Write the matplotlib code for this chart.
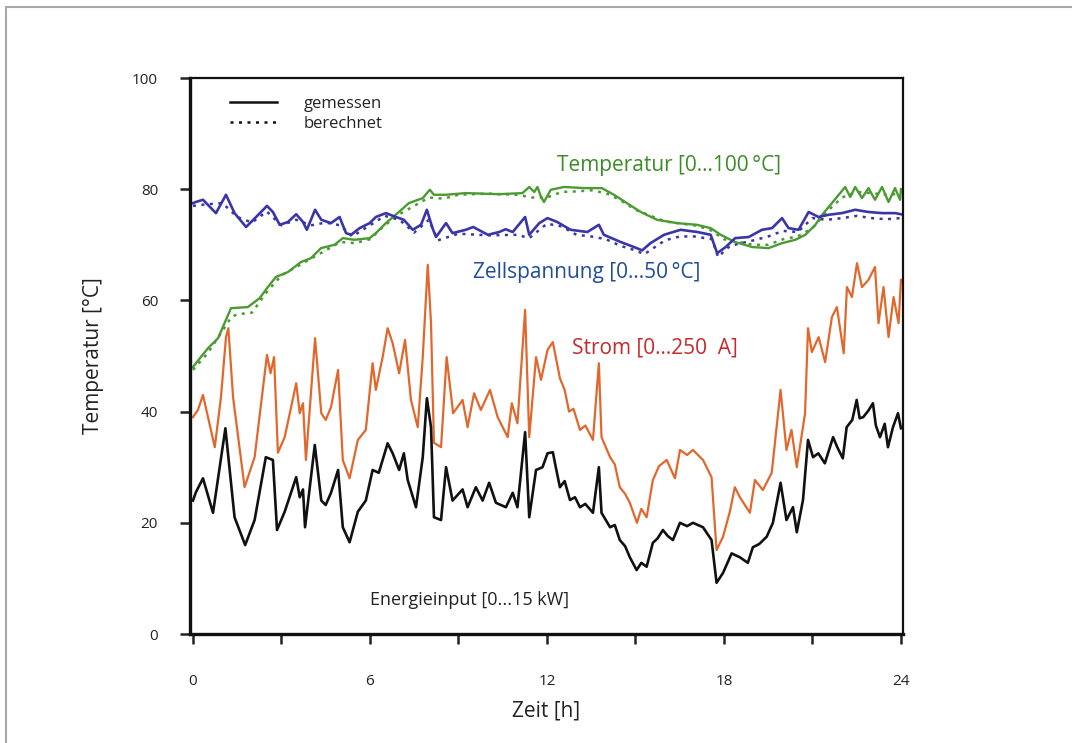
import matplotlib
matplotlib.use("Agg")
import matplotlib.pyplot as plt
from matplotlib.lines import Line2D
from matplotlib.patches import Rectangle

plt.rcParams['font.family'] = ['Open Sans', 'DejaVu Sans']

# Energieinput [0...15 kW] (gemessen)
energie = [(0, 24), (0.1, 25.5), (0.34, 28), (0.68, 21.8), (1.1, 37), (1.41, 21), (1.77, 16),
           (2.09, 20.5), (2.47, 31.8), (2.71, 31.3), (2.85, 18.7), (3.11, 22), (3.5, 28.2),
           (3.62, 24.6), (3.73, 26), (3.8, 19.2), (4.13, 34), (4.35, 24), (4.5, 23.2), (4.68, 25.4),
           (4.92, 29.5), (5.08, 19.2), (5.31, 16.5), (5.59, 22), (5.86, 24), (6.09, 29.5), (6.3, 29),
           (6.6, 34.3), (6.77, 32.5), (6.99, 29.5), (7.15, 32.5), (7.28, 27.7), (7.56, 22.8),
           (7.79, 31.8), (7.93, 42.4), (8.07, 37.2), (8.17, 21), (8.41, 20.5), (8.58, 30), (8.8, 24),
           (9.14, 26), (9.31, 22.8), (9.59, 26.4), (9.82, 24), (10.04, 27.2), (10.27, 23.6),
           (10.61, 22.8), (10.84, 25.4), (11.0, 22.8), (11.26, 36.3), (11.4, 21), (11.63, 29.5),
           (11.85, 30), (12.02, 32.5), (12.2, 32.7), (12.3, 30), (12.44, 26.4), (12.6, 27.5),
           (12.78, 24.1), (12.95, 24.6), (13.12, 22.8), (13.3, 23.4), (13.56, 21.8), (13.76, 30),
           (13.85, 21.8), (14.14, 19.2), (14.3, 19.6), (14.47, 16.9), (14.65, 15.8), (14.81, 13.8),
           (15.04, 11.5), (15.2, 12.8), (15.38, 12.1), (15.59, 16.4), (15.75, 17.2), (15.93, 18.7),
           (16.1, 17.6), (16.27, 16.9), (16.51, 20), (16.75, 19.4), (16.95, 20), (17.29, 19.2),
           (17.58, 16.9), (17.75, 9.2), (17.97, 11), (18.26, 14.5), (18.54, 13.8), (18.81, 12.8),
           (18.98, 15.6), (19.2, 16.2), (19.45, 17.5), (19.66, 20), (19.92, 27.2), (20.12, 20.5),
           (20.34, 22.8), (20.47, 18.3), (20.68, 24.1), (20.85, 34.9), (21.02, 31.8), (21.2, 32.5),
           (21.42, 30.7), (21.7, 35.4), (21.85, 33.5), (22.03, 31.6), (22.16, 37.2), (22.35, 38.5),
           (22.5, 42.1), (22.6, 38.8), (22.72, 39), (22.9, 40.2), (23.05, 41.5), (23.15, 37.5),
           (23.29, 35.4), (23.45, 37.8), (23.56, 33.6), (23.73, 37.2), (23.9, 39.7), (24.0, 37)]

# Strom [0...250 A] (gemessen)
strom = [(0, 39), (0.17, 40.3), (0.34, 43), (0.74, 33.6), (0.95, 42.6), (1.12, 53.4), (1.2, 55),
         (1.36, 42.6), (1.75, 26.4), (2.09, 31.8), (2.51, 50.2), (2.63, 46.9), (2.75, 49.8),
         (2.88, 32.6), (3.11, 35.4), (3.5, 45.1), (3.62, 39.7), (3.73, 41.5), (3.83, 31.3),
         (4.14, 53.2), (4.35, 39.7), (4.5, 38.5), (4.68, 40.8), (4.92, 47.5), (5.08, 31.3),
         (5.31, 28), (5.59, 34.9), (5.86, 36.7), (6.09, 48.7), (6.2, 43.9), (6.43, 49.8), (6.6, 55),
         (6.77, 52.3), (6.99, 46.9), (7.19, 52.9), (7.39, 42.1), (7.62, 37.2), (7.79, 49.8),
         (7.96, 66.4), (8.07, 55.9), (8.17, 34.4), (8.41, 33.6), (8.6, 49.8), (8.82, 39.7),
         (9.14, 42.1), (9.31, 37.2), (9.53, 43.3), (9.76, 40.3), (10.07, 43.9), (10.33, 39),
         (10.67, 35.4), (10.81, 41.5), (11.0, 37.9), (11.26, 58.3), (11.4, 35.4), (11.63, 49.8),
         (11.8, 45.7), (12.02, 51.1), (12.2, 52.5), (12.44, 46), (12.6, 43.9), (12.75, 40),
         (12.9, 40.5), (13.12, 36.7), (13.3, 37.5), (13.56, 34.9), (13.76, 48.7), (13.85, 35.4),
         (14.14, 31.8), (14.3, 30.5), (14.47, 26.4), (14.65, 25.2), (14.81, 23.6), (15.05, 20),
         (15.2, 22.5), (15.38, 21), (15.59, 27.7), (15.8, 30.2), (16.06, 31.3), (16.34, 28),
         (16.51, 33.1), (16.75, 32.2), (16.95, 33.1), (17.29, 31.3), (17.58, 28.2), (17.75, 15.1),
         (17.97, 17.5), (18.2, 22), (18.37, 26.4), (18.54, 24.6), (18.88, 21.8), (19.05, 27.7),
         (19.32, 25.9), (19.62, 29), (19.92, 43.9), (20.12, 33.1), (20.29, 36.7), (20.47, 30),
         (20.75, 39.7), (20.85, 55), (20.98, 50.7), (21.21, 53.4), (21.43, 48.9), (21.66, 57),
         (21.83, 58.8), (22.06, 50.5), (22.17, 62.4), (22.34, 60.6), (22.51, 66.7), (22.68, 62.4),
         (22.9, 63.7), (23.12, 66), (23.24, 55.9), (23.41, 62.4), (23.58, 53.4), (23.75, 60.6),
         (23.92, 55.9), (24.0, 63.7)]

# Temperatur [0...100 °C]
temp_gem = [(0, 48), (0.1, 48.7), (0.51, 51.4), (0.85, 53.2), (1.07, 55.9), (1.29, 58.6),
            (1.86, 58.8), (2.26, 60.4), (2.54, 62.4), (2.81, 64.2), (3.22, 65.1), (3.66, 66.9),
            (4.0, 67.6), (4.34, 69.4), (4.8, 70), (5.08, 71.2), (5.47, 70.9), (5.99, 71.2),
            (6.2, 72.1), (6.54, 73.9), (6.98, 75.9), (7.32, 77.5), (7.79, 78.4), (8.03, 79.9),
            (8.17, 79), (8.58, 79), (9.25, 79.3), (10.37, 79.1), (11.17, 79.3), (11.4, 80.4),
            (11.57, 79.5), (11.68, 80.4), (11.8, 78.6), (11.9, 77.7), (12.13, 79.9), (12.58, 80.4),
            (13.25, 80.2), (13.86, 80.2), (14.27, 79), (14.71, 77.5), (15.18, 75.9), (15.73, 74.5),
            (16.41, 73.9), (17.08, 73.6), (17.55, 73), (17.89, 71.8), (18.38, 70.5), (18.95, 69.6),
            (19.51, 69.4), (19.97, 70.3), (20.42, 70.9), (20.76, 71.8), (21.1, 73.6), (21.33, 75.4),
            (21.66, 77.5), (21.94, 79.3), (22.11, 80.4), (22.28, 78.6), (22.45, 80.4), (22.68, 78.4),
            (22.9, 80.2), (23.12, 78.1), (23.36, 80.4), (23.58, 77.7), (23.8, 80.2), (23.97, 78.1),
            (24, 80)]
temp_ber = [(0, 47.5), (0.5, 50.5), (1.0, 54.5), (1.3, 57), (1.5, 57.5), (2.0, 57.8), (2.5, 61.5),
            (3.0, 64.5), (3.5, 66), (4.0, 67.5), (4.5, 69), (5.0, 70.5), (5.5, 70.3), (6.0, 71),
            (6.5, 73.5), (7.0, 75.5), (7.5, 77), (8.0, 78.5), (8.5, 78.3), (9.0, 79), (10.0, 79.2),
            (11.0, 79), (11.5, 78.5), (12.0, 78.5), (12.5, 79.5), (13.0, 79.6), (13.5, 79.8),
            (14.0, 79.3), (14.5, 78), (15.0, 76.3), (16.0, 74.2), (17.0, 73.5), (17.5, 72.8),
            (18.0, 71), (19.0, 70), (19.5, 70), (20.0, 71), (20.5, 71.5), (21.0, 73), (21.5, 76),
            (22.0, 78.5), (22.5, 79.5), (23.0, 79.3), (23.5, 79), (24.0, 79.2)]

# Zellspannung [0...50 °C]
zell_gem = [(0, 77.5), (0.1, 77.7), (0.34, 78.1), (0.78, 75.7), (1.12, 79), (1.41, 75.7), (1.8, 73.2),
            (2.14, 75), (2.51, 77), (2.71, 75.9), (2.94, 73.6), (3.22, 74.1), (3.5, 75.5), (3.73, 74.1),
            (3.86, 72.7), (4.14, 76.3), (4.35, 74.5), (4.68, 73.9), (4.97, 75), (5.19, 72.1),
            (5.36, 71.8), (5.65, 73), (5.99, 73.9), (6.2, 75), (6.54, 75.7), (6.88, 75), (7.15, 74.5),
            (7.45, 72.7), (7.73, 73.6), (7.93, 76.3), (8.12, 73), (8.24, 71.4), (8.58, 73.9),
            (8.8, 72.1), (9.25, 72.7), (9.5, 73.2), (9.82, 72.3), (10.0, 71.8), (10.38, 72.3),
            (10.6, 72.8), (10.84, 72.3), (11.26, 75), (11.4, 71.8), (11.74, 73.9), (12.02, 74.8),
            (12.35, 74.1), (12.8, 72.7), (13.37, 72.3), (13.76, 73.6), (13.93, 71.8), (14.5, 70.5),
            (14.95, 69.6), (15.23, 69), (15.51, 70.3), (15.97, 71.8), (16.53, 72.7), (17.1, 72.3),
            (17.55, 71.8), (17.77, 68.5), (18.06, 69.6), (18.38, 71.2), (18.84, 71.4), (19.29, 72.7),
            (19.63, 73), (19.97, 74.8), (20.19, 73), (20.53, 72.7), (20.87, 75.9), (21.21, 75),
            (21.55, 75.4), (22.0, 75.7), (22.45, 76.3), (22.9, 75.9), (23.36, 75.7), (23.8, 75.7),
            (24.0, 75.5)]
zell_ber = [(0, 77), (0.5, 77.3), (1.0, 77.5), (1.5, 75), (2.0, 74), (2.5, 76), (3.0, 73.5),
            (3.5, 74.5), (4.0, 73.5), (4.5, 74), (5.0, 73.5), (5.4, 71.5), (6.0, 73.5), (6.5, 75.2),
            (7.0, 74.5), (7.5, 72.2), (8.0, 74.5), (8.3, 70.8), (9.0, 72), (10.0, 71.7), (11.0, 71.8),
            (11.4, 71.2), (12.0, 73.8), (12.5, 73.3), (13.0, 71.8), (13.5, 71.5), (14.0, 71),
            (14.5, 69.8), (15.0, 69), (15.3, 68.3), (16.0, 70.8), (16.5, 71.5), (17.0, 71.5),
            (17.6, 71), (17.8, 67.8), (18.2, 69.8), (19.0, 70.8), (19.5, 71.5), (20.0, 72.5),
            (20.5, 72.3), (21.0, 74.8), (21.5, 74.5), (22.0, 74.8), (22.5, 75.2), (23.0, 74.8),
            (23.5, 74.6), (24.0, 74.8)]

x_major = [0, 6, 12, 18, 24]
x_minor = [3, 9, 15, 21]
y_ticks = [0, 20, 40, 60, 80, 100]

GREEN = '#4b9a32'
BLUE = '#3a35a8'
ORANGE = '#e2672c'
BLACK = '#111111'
dots = (0, (1.2, 2.2))


def xy(pairs):
    t, v = zip(*pairs)
    return list(t), list(v)


fig = plt.figure(figsize=(10.72, 7.43), dpi=100)
fig.patches.append(Rectangle((6 / 1072, -0.05), 1.1, 1 - 7 / 743 + 0.05, transform=fig.transFigure,
                             fill=False, edgecolor='#a8a8a8', linewidth=1.5))
ax = fig.add_axes([190 / 1072, 1 - 634 / 743, 713 / 1072, 556 / 743])

ax.plot(*xy(temp_ber), color=GREEN, lw=1.8, linestyle=dots)
ax.plot(*xy(zell_ber), color=BLUE, lw=1.8, linestyle=dots)
ax.plot(*xy(temp_gem), color=GREEN, lw=1.7)
ax.plot(*xy(zell_gem), color=BLUE, lw=1.9)
ax.plot(*xy(strom), color=ORANGE, lw=1.6)
ax.plot(*xy(energie), color=BLACK, lw=1.9)

ax.set_xlim(-0.1, 24.07)
ax.set_ylim(0, 100)
ax.set_xticks(x_major)
ax.set_xticks(x_minor, minor=True)
ax.set_yticks(y_ticks)
ax.tick_params(axis='both', which='both', direction='out', length=7, width=1.8, labelsize=11,
               colors='#222222')
ax.tick_params(axis='x', which='major', pad=22)
ax.tick_params(axis='y', pad=16)
for side, w in [('left', 2.4), ('bottom', 2.4), ('top', 1.6), ('right', 1.6)]:
    ax.spines[side].set_linewidth(w)
    ax.spines[side].set_color('#111111')

ax.set_xlabel('Zeit [h]', fontsize=15, labelpad=8, color='#222222')
ax.set_ylabel('Temperatur [°C]', fontsize=15, labelpad=20, color='#222222')

ax.text(12.34, 84.2, 'Temperatur [0...100\u2009°C]', color='#3c8c28', fontsize=15, va='center')
ax.text(9.49, 65.1, 'Zellspannung [0...50\u2009°C]', color='#1f4c9c', fontsize=15, va='center')
ax.text(12.85, 51.4, 'Strom [0...250  A]', color='#c42a2a', fontsize=15, va='center')
ax.text(6.0, 6.1, 'Energieinput [0...15 kW]', color='#222222', fontsize=13, va='center')

handles = [Line2D([], [], color=BLACK, lw=1.8),
           Line2D([], [], color=BLACK, lw=1.8, linestyle=dots)]
ax.legend(handles, ['gemessen', 'berechnet'], loc='upper left', bbox_to_anchor=(0.035, 0.995),
          frameon=False, fontsize=12, handlelength=2.8, handletextpad=1.6, labelspacing=0.25,
          labelcolor='#222222')

fig.savefig('out.png', dpi=100)
